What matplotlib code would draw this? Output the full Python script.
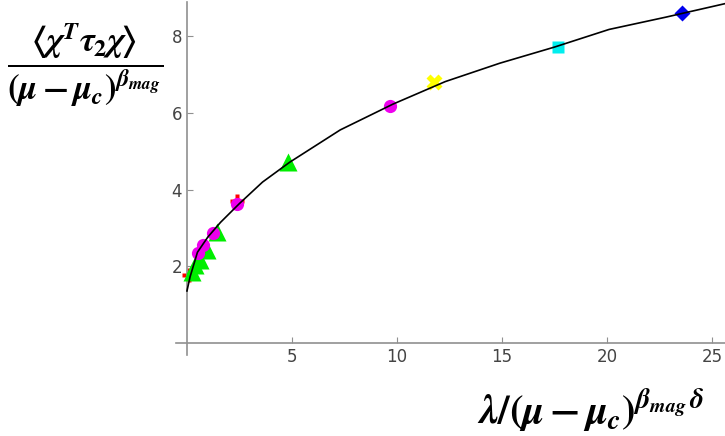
import numpy as np
import matplotlib
matplotlib.use("Agg")
import matplotlib.pyplot as plt

# bold italic math, close to the Mathematica bold TeX labels
plt.rcParams['mathtext.fontset'] = 'custom'
plt.rcParams['mathtext.it'] = 'STIXGeneral:italic:bold'
plt.rcParams['mathtext.rm'] = 'STIXGeneral:bold'
plt.rcParams['mathtext.bf'] = 'STIXGeneral:bold'

# fitted scaling curve
curve_x = [0, 0.15, 0.5, 1.0, 1.6, 2.5, 3.6, 4.9, 7.3, 9.8, 12.3, 14.9, 17.5, 20.1, 22.8, 25.6]
curve_y = [1.36, 1.73, 2.37, 2.77, 3.15, 3.64, 4.2, 4.72, 5.56, 6.23, 6.82, 7.30, 7.72, 8.18, 8.50, 8.85]

# data sets
red_x = [0.12, 2.38]
red_y = [1.77, 3.70]
green_x = [0.22, 0.38, 0.62, 0.94, 1.41, 4.82]
green_y = [1.86, 2.03, 2.17, 2.43, 2.91, 4.72]
magenta_x = [0.54, 0.78, 1.22, 2.40, 9.67]
magenta_y = [2.34, 2.55, 2.87, 3.64, 6.19]
yellow_x = [11.77]
yellow_y = [6.82]
cyan_x = [17.68]
cyan_y = [7.73]
blue_x = [23.59]
blue_y = [8.60]

xticks = [5, 10, 15, 20, 25]
yticks = [2, 4, 6, 8]

fig = plt.figure(figsize=(7.25, 4.36), dpi=100)
ax = fig.add_axes([0.2428, 0.1858, 0.7572, 0.81])

ax.plot(curve_x, curve_y, color='black', lw=1.2, zorder=5)

ax.plot(red_x, red_y, 'P', color='red', ms=10, mec='none', zorder=2)
ax.plot(green_x, green_y, '^', color='#00ee00', ms=13, mec='none', zorder=3)
ax.plot(magenta_x, magenta_y, 'o', color='#ee00ee', ms=9.5, mec='none', zorder=4)
ax.plot(yellow_x, yellow_y, 'X', color='#ffff00', ms=12, mec='none', zorder=4)
ax.plot(cyan_x, cyan_y, 's', color='#00eeee', ms=9, mec='none', zorder=4)
ax.plot(blue_x, blue_y, 'D', color='#0000ee', ms=8, mec='none', zorder=4)

ax.set_xlim(-0.52, 25.62)
ax.set_ylim(-0.31, 8.9)

for s in ['top', 'right']:
    ax.spines[s].set_visible(False)
ax.spines['left'].set_position(('data', 0))
ax.spines['bottom'].set_position(('data', 0))
for s in ['left', 'bottom']:
    ax.spines[s].set_color('#909090')
    ax.spines[s].set_linewidth(1.2)

ax.set_xticks(xticks)
ax.set_yticks(yticks)
ax.tick_params(direction='in', length=4, width=0.8, color='#909090',
               labelsize=12, labelcolor='#444444')
ax.patch.set_visible(False)

fig.text(0.118, 0.85,
         r'$\dfrac{\langle\chi^T\tau_2\chi\rangle}{(\mu-\mu_c)^{\beta_{mag}}}$',
         fontsize=25, ha='center', va='center')
fig.text(0.815, 0.06, r'$\lambda/(\mu-\mu_c)^{\beta_{mag}\,\delta}$',
         fontsize=29, ha='center', va='center')

fig.savefig('out.png', dpi=100)
